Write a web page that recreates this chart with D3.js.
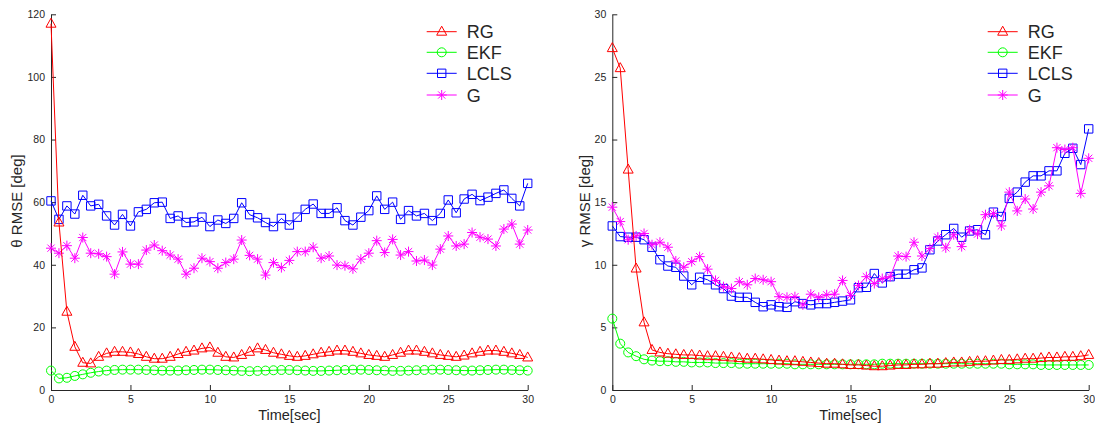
<!DOCTYPE html>
<html>
<head>
<meta charset="utf-8">
<script src="https://cdn.jsdelivr.net/npm/d3@7"></script>
<style>
  html, body { margin: 0; padding: 0; background: #fff; }
  svg { display: block; font-family: "Liberation Sans", Arial, Helvetica, sans-serif; }
</style>
</head>
<body>
<svg id="chart" width="1095" height="423"></svg>
<script>
// ---------- data ----------
const time = d3.range(0, 30.0001, 0.5);
const seriesNames = ["RG", "EKF", "LCLS", "G"];
const xTicks = [0, 5, 10, 15, 20, 25, 30];
const thetaTicks = [0, 20, 40, 60, 80, 100, 120];
const gammaTicks = [0, 5, 10, 15, 20, 25, 30];

// theta RMSE (left panel)
const thetaRG = [117, 53.5, 25, 13.8, 8.7, 8.5, 10.6, 11.7, 12.2, 12.2, 12.0,
  11.5, 10.6, 10.0, 10.0, 10.6, 11.5, 12.2, 12.6, 13.3, 13.6,
  11.9, 10.6, 10.4, 11.2, 12.2, 13.3, 12.8, 11.9, 11.4, 10.9,
  10.6, 10.9, 11.4, 11.9, 12.2, 12.6, 12.6, 12.2, 11.7, 11.2,
  10.9, 10.6, 11.2, 11.9, 12.6, 12.6, 12.2, 11.7, 11.2, 10.9,
  10.6, 11.0, 11.7, 12.2, 12.6, 12.6, 12.2, 11.7, 11.2, 10.4];
const thetaEKF = [6.2, 3.7, 3.9, 4.5, 5.0, 5.5, 5.9, 6.2, 6.4, 6.5, 6.5,
  6.5, 6.4, 6.3, 6.2, 6.2, 6.2, 6.3, 6.4, 6.5, 6.5,
  6.4, 6.3, 6.2, 6.1, 6.0, 6.1, 6.2, 6.3, 6.4, 6.4,
  6.3, 6.2, 6.1, 6.1, 6.2, 6.3, 6.4, 6.5, 6.5, 6.4,
  6.3, 6.2, 6.1, 6.1, 6.2, 6.3, 6.4, 6.5, 6.5, 6.4,
  6.3, 6.2, 6.2, 6.3, 6.4, 6.5, 6.5, 6.4, 6.3, 6.2];
const thetaLCLS = [60.4, 54.5, 58.8, 56.2, 62.2, 58.8, 59.3, 55.6, 52.7, 56.1,
  52.4, 56.9, 57.7, 59.8, 60.0, 54.8, 55.6, 53.5, 53.7, 55.2,
  52.2, 54.3, 53.2, 54.8, 59.8, 56.0, 55.0, 53.5, 52.2, 54.8, 52.7,
  55.2, 57.7, 59.4, 56.4, 56.4, 58.2, 54.1, 52.7, 55.2, 57.3,
  62.0, 57.7, 60.0, 54.5, 57.3, 55.6, 56.4, 54.1, 56.4, 60.7,
  56.6, 61.0, 62.5, 60.5, 61.6, 62.8, 63.9, 61.2, 58.8, 66.0];
const thetaG = [45.3, 43.7, 46.1, 42.1, 48.7, 43.7, 43.5, 42.6, 37.0, 44.1,
  40.2, 40.2, 44.7, 46.3, 44.5, 43.1, 41.8, 37.0, 38.9, 42.1,
  41.0, 38.9, 40.7, 41.8, 47.9, 43.0, 41.8, 36.7, 40.7, 39.1, 41.4,
  44.2, 44.2, 45.6, 42.1, 42.8, 39.9, 39.7, 38.7, 41.8, 43.7,
  47.7, 43.9, 48.1, 43.1, 44.2, 41.2, 41.5, 39.9, 45.0, 49.2,
  46.0, 46.6, 50.3, 48.8, 48.2, 46.0, 51.4, 53.0, 46.6, 51.1];

// gamma RMSE (right panel)
const gammaRG = [27.3, 25.7, 17.6, 9.7, 5.4, 3.2, 3.0, 2.9, 2.85, 2.8, 2.8,
  2.75, 2.7, 2.7, 2.65, 2.6, 2.55, 2.5, 2.5, 2.45, 2.4,
  2.35, 2.3, 2.3, 2.25, 2.2, 2.15, 2.1, 2.1, 2.05, 2.0,
  2.0, 1.95, 1.9, 1.9, 1.95, 2.0, 2.0, 2.05, 2.05, 2.1,
  2.1, 2.15, 2.2, 2.2, 2.25, 2.3, 2.3, 2.35, 2.4, 2.4,
  2.45, 2.5, 2.5, 2.55, 2.6, 2.6, 2.65, 2.65, 2.7, 2.8];
const gammaEKF = [5.7, 3.7, 3.0, 2.7, 2.45, 2.35, 2.3, 2.3, 2.25, 2.25, 2.2,
  2.2, 2.2, 2.15, 2.15, 2.15, 2.1, 2.1, 2.1, 2.1, 2.1,
  2.1, 2.1, 2.05, 2.05, 2.05, 2.05, 2.05, 2.05, 2.05, 2.05,
  2.05, 2.05, 2.05, 2.1, 2.1, 2.1, 2.1, 2.1, 2.1, 2.1,
  2.1, 2.1, 2.1, 2.1, 2.1, 2.1, 2.1, 2.1, 2.1, 2.05,
  2.05, 2.05, 2.05, 2.0, 2.0, 2.0, 2.0, 2.0, 2.0, 2.0];
const gammaLCLS = [13.1, 12.25, 12.2, 12.2, 12.0, 11.4, 10.4, 9.9, 9.8, 9.1,
  8.4, 9.0, 8.8, 8.4, 8.1, 7.5, 7.4, 7.4, 7.0, 6.65,
  6.8, 6.65, 6.6, 7.05, 6.9, 6.8, 6.9, 6.9, 7.0, 7.1, 7.2,
  8.17, 8.2, 9.3, 8.55, 9.05, 9.25, 9.25, 9.6, 9.75, 11.2,
  11.9, 12.4, 12.9, 12.2, 12.7, 12.8, 12.4, 14.2, 13.85, 15.3,
  15.8, 16.6, 17.1, 17.1, 17.5, 17.5, 18.9, 19.3, 18.0, 20.85];
const gammaG = [14.6, 13.45, 12.0, 12.3, 12.5, 11.6, 11.8, 11.4, 10.3, 9.8,
  10.25, 10.65, 9.65, 8.75, 8.25, 8.1, 8.65, 8.4, 8.9, 8.8,
  8.65, 7.45, 7.4, 7.45, 6.8, 7.65, 7.4, 7.6, 7.65, 8.75, 7.55,
  8.35, 9.05, 8.5, 8.9, 9.05, 10.7, 10.65, 11.8, 10.7, 11.3,
  12.2, 11.35, 12.4, 11.45, 12.8, 12.45, 14.0, 14.1, 13.1, 15.8,
  14.3, 15.25, 14.45, 15.8, 16.3, 19.35, 19.2, 19.35, 15.7, 18.5];

// ---------- styles ----------
const colors = { RG: "#ff0000", EKF: "#00ff00", LCLS: "#0000ff", G: "#ff00ff" };
const markerPaths = {
  RG: "M0,-5.5L5,3.5L-5,3.5Z",
  EKF: "M4.5,0A4.5,4.5 0 1,1 -4.5,0A4.5,4.5 0 1,1 4.5,0Z",
  LCLS: "M-4.2,-4.2H4.2V4.2H-4.2Z",
  G: "M-5,0H5M0,-5V5M-3.6,-3.6L3.6,3.6M-3.6,3.6L3.6,-3.6"
};
const axisColor = "#262626";

const svg = d3.select("#chart");

function drawPanel(cfg) {
  const x = d3.scaleLinear().domain([0, 30]).range([cfg.x0, cfg.x1]);
  const y = d3.scaleLinear().domain([cfg.yTicks[0], cfg.yTicks[cfg.yTicks.length - 1]]).range([390, 14.3]);
  const g = svg.append("g");

  // axes (MATLAB-style, ticks inward, no box)
  const xAxis = d3.axisBottom(x).tickValues(xTicks).tickSizeInner(-5).tickSizeOuter(0).tickPadding(6);
  const yAxis = d3.axisLeft(y).tickValues(cfg.yTicks).tickSizeInner(-5).tickSizeOuter(0).tickPadding(cfg.yPad);
  const gx = g.append("g").attr("transform", "translate(0,390)").call(xAxis);
  const gy = g.append("g").attr("transform", `translate(${cfg.x0},0)`).call(yAxis);
  [gx, gy].forEach(a => {
    a.select(".domain").attr("stroke", axisColor).attr("stroke-width", 1);
    a.selectAll(".tick line").attr("stroke", axisColor);
    a.selectAll(".tick text").attr("fill", axisColor).attr("font-size", 10.5)
      .attr("font-family", "Liberation Sans, Arial, sans-serif");
  });

  // series
  const order = ["LCLS", "G", "EKF", "RG"];
  order.forEach(name => {
    const vals = cfg.data[name];
    const pts = time.map((t, i) => [t, vals[i]]);
    const line = d3.line().x(d => x(d[0])).y(d => y(d[1]));
    g.append("path").attr("d", line(pts)).attr("fill", "none")
      .attr("stroke", colors[name]).attr("stroke-width", 1);
    g.selectAll(null).data(pts).enter().append("path")
      .attr("d", markerPaths[name])
      .attr("transform", d => `translate(${x(d[0])},${y(d[1])})`)
      .attr("fill", "none").attr("stroke", colors[name]).attr("stroke-width", 1);
  });

  // axis labels
  g.append("text").attr("x", (cfg.x0 + cfg.x1) / 2).attr("y", 420)
    .attr("text-anchor", "middle").attr("font-size", 14.5).attr("fill", axisColor)
    .text("Time[sec]");
  g.append("text").attr("transform", `translate(${cfg.yLabelX},201) rotate(-90)`)
    .attr("text-anchor", "middle").attr("font-size", 15).attr("fill", axisColor)
    .text(cfg.yLabel);

  // legend
  const lg = g.append("g");
  seriesNames.forEach((name, i) => {
    const ly = cfg.legY[i];
    lg.append("line").attr("x1", cfg.legX).attr("x2", cfg.legX + 30)
      .attr("y1", ly).attr("y2", ly).attr("stroke", colors[name]).attr("stroke-width", 1);
    lg.append("path").attr("d", markerPaths[name])
      .attr("transform", `translate(${cfg.legX + 15},${ly})`)
      .attr("fill", "none").attr("stroke", colors[name]).attr("stroke-width", 1);
    lg.append("text").attr("x", cfg.legX + 40).attr("y", ly + 6.5)
      .attr("font-size", 18).attr("fill", axisColor).text(name);
  });
}

drawPanel({
  x0: 51, x1: 527.7, yTicks: thetaTicks, yPad: 6,
  yLabel: "θ RMSE [deg]", yLabelX: 22,
  legX: 426.7, legY: [31.7, 52.3, 73.3, 95],
  data: { RG: thetaRG, EKF: thetaEKF, LCLS: thetaLCLS, G: thetaG }
});
drawPanel({
  x0: 612.3, x1: 1088.7, yTicks: gammaTicks, yPad: 6,
  yLabel: "γ RMSE [deg]", yLabelX: 590,
  legX: 987.7, legY: [31.7, 52.3, 73.3, 95],
  data: { RG: gammaRG, EKF: gammaEKF, LCLS: gammaLCLS, G: gammaG }
});
</script>
</body>
</html>
